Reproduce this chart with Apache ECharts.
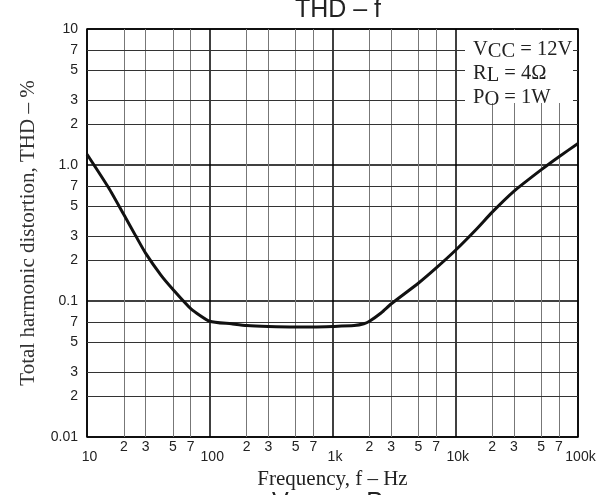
<!DOCTYPE html>
<html>
<head>
<meta charset="utf-8">
<script src="https://cdn.jsdelivr.net/npm/echarts@6/dist/echarts.min.js"></script>
<style>
  html, body { margin: 0; padding: 0; background: #fff; }
  #chart { width: 608px; height: 495px; }
</style>
</head>
<body>
<div id="chart"></div>
<script>
// Curve (Hz, %)
const freq = [10, 15, 20, 25, 30, 40, 50, 70, 100, 150, 200, 300, 500, 700, 1000, 1500, 1800, 2000, 2500, 3000, 5000, 7000, 10000, 15000, 20000, 30000, 50000, 70000, 100000];
const thd = [1.2, 0.68, 0.43, 0.3, 0.225, 0.155, 0.122, 0.088, 0.071, 0.068, 0.066, 0.065, 0.0645, 0.0645, 0.065, 0.066, 0.068, 0.071, 0.082, 0.095, 0.135, 0.175, 0.235, 0.34, 0.45, 0.64, 0.92, 1.15, 1.44];

// Minor grid positions and their labels
const xMinorTicks = [20, 30, 50, 70, 200, 300, 500, 700, 2000, 3000, 5000, 7000, 20000, 30000, 50000, 70000];
const xMinorLabels = ['2', '3', '5', '7', '2', '3', '5', '7', '2', '3', '5', '7', '2', '3', '5', '7'];
const yMinorTicks = [0.02, 0.03, 0.05, 0.07, 0.2, 0.3, 0.5, 0.7, 2, 3, 5, 7];
const yMinorLabels = ['2', '3', '5', '7', '2', '3', '5', '7', '2', '3', '5', '7'];

// Decade labels
const xDecadeLabels = { 10: '10', 100: '100', 1000: '1k', 10000: '10k', 100000: '100k' };
const yDecadeLabels = { 10: '10', 1: '1.0', 0.1: '0.1', 0.01: '0.01' };

const conditions = ['{m|V}{s|CC}{m| = 12V}', '{m|R}{s|L}{m| = 4Ω}', '{m|P}{s|O}{m| = 1W}'];

const chart = echarts.init(document.getElementById('chart'));

const sans = 'Liberation Sans, Arial, sans-serif';
const serif = 'Liberation Serif, Times New Roman, serif';

// Minor grid lines drawn through the axes' own scales
const minorLines = [];
xMinorTicks.forEach(function (v, i) {
  minorLines.push({
    xAxis: v,
    lineStyle: { color: '#777', width: 1, type: 'solid' },
    label: { show: true, position: 'start', formatter: xMinorLabels[i], distance: 3, color: '#222', fontSize: 14, fontFamily: sans }
  });
});
yMinorTicks.forEach(function (v, i) {
  minorLines.push({
    yAxis: v,
    lineStyle: { color: '#333', width: 1, type: 'solid' },
    label: { show: true, position: 'start', formatter: yMinorLabels[i], distance: 9, color: '#222', fontSize: 14, fontFamily: sans }
  });
});

function conditionText(text, top) {
  return {
    type: 'text',
    left: 473,
    top: top,
    z: 101,
    style: {
      text: text,
      fill: '#222',
      rich: {
        m: { fontFamily: serif, fontSize: 20.5, lineHeight: 16, verticalAlign: 'top', fill: '#222' },
        s: { fontFamily: serif, fontSize: 20.5, lineHeight: 16, padding: [8, 0, 0, 0], fill: '#222' }
      }
    }
  };
}

const option = {
  animation: false,
  title: {
    text: 'THD – f',
    left: 333,
    top: -7,
    textAlign: 'center',
    textStyle: { fontFamily: sans, fontSize: 25, fontWeight: 'normal', color: '#222' }
  },
  grid: {
    left: 87,
    right: 30,
    top: 29,
    bottom: 58,
    outerBoundsMode: 'none',
    show: true,
    borderColor: '#000',
    borderWidth: 1.5,
    backgroundColor: 'transparent'
  },
  xAxis: {
    type: 'log',
    logBase: 10,
    min: 10,
    max: 100000,
    name: 'Frequency, f – Hz',
    nameLocation: 'middle',
    nameGap: 29,
    nameTextStyle: { fontFamily: serif, fontSize: 21, color: '#222' },
    axisLine: { show: false },
    axisTick: { show: false },
    axisLabel: {
      margin: 13,
      padding: [0, 0, 0, 5],
      color: '#222',
      fontSize: 14,
      fontFamily: sans,
      formatter: function (v) { return xDecadeLabels[Math.round(v)] || ''; }
    },
    splitLine: { show: true, lineStyle: { color: '#000', width: 1.5 } }
  },
  yAxis: {
    type: 'log',
    logBase: 10,
    min: 0.01,
    max: 10,
    name: 'Total harmonic distortion, THD – %',
    nameLocation: 'middle',
    nameGap: 48,
    nameTextStyle: { fontFamily: serif, fontSize: 21, color: '#333' },
    axisLine: { show: false },
    axisTick: { show: false },
    axisLabel: {
      margin: 9,
      color: '#222',
      fontSize: 14,
      fontFamily: sans,
      formatter: function (v) {
        const key = Object.keys(yDecadeLabels).find(function (k) { return Math.abs(Math.log10(+k) - Math.log10(v)) < 1e-6; });
        return key ? yDecadeLabels[key] : '';
      }
    },
    splitLine: { show: true, lineStyle: { color: '#000', width: 1.5 } }
  },
  series: [
    {
      name: 'grid',
      type: 'line',
      data: freq.map(function (f, i) { return [f, thd[i]]; }),
      showSymbol: false,
      lineStyle: { opacity: 0 },
      silent: true,
      z: 1,
      markLine: {
        silent: true,
        symbol: 'none',
        animation: false,
        data: minorLines
      }
    },
    {
      name: 'THD',
      type: 'line',
      data: freq.map(function (f, i) { return [f, thd[i]]; }),
      showSymbol: false,
      smooth: 0.2,
      lineStyle: { color: '#111', width: 3 },
      z: 5
    }
  ],
  graphic: [
    { type: 'rect', z: 100, shape: { x: 465, y: 30, width: 108, height: 73 }, style: { fill: '#fff' } },
    conditionText(conditions[0], 33),
    conditionText(conditions[1], 57),
    conditionText(conditions[2], 81),
    {
      type: 'text',
      left: 272,
      top: 487,
      z: 101,
      style: {
        text: '{m|V}{s|CC}{m|  –  P}{s|O}',
        rich: {
          m: { fontFamily: sans, fontSize: 25, lineHeight: 20, verticalAlign: 'top', fill: '#222' },
          s: { fontFamily: sans, fontSize: 18, lineHeight: 20, padding: [9, 6, 0, 4], fill: '#222' }
        }
      }
    }
  ]
};

chart.setOption(option);
</script>
</body>
</html>
